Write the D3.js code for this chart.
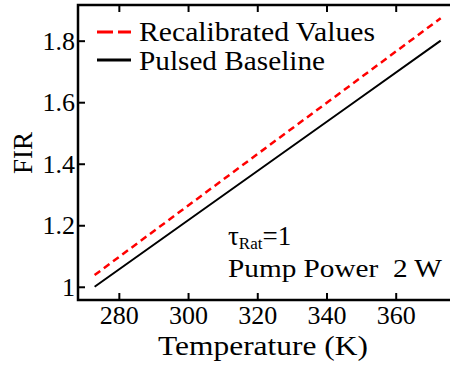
<!DOCTYPE html>
<html>
<head>
<meta charset="utf-8">
<script src="https://cdn.jsdelivr.net/npm/d3@7"></script>
<style>
  body { margin: 0; background: #fff; }
  svg text { font-family: "Liberation Serif", serif; fill: #000; }
</style>
</head>
<body>
<div id="chart"></div>
<script>
// values
var temps = [273, 298, 323, 348, 373];
var baseline = [1.0, 1.2, 1.4, 1.6, 1.8];
var recalibrated = [1.038, 1.247, 1.456, 1.664, 1.873];
var xTicks = [280, 300, 320, 340, 360];
var yTicks = [1, 1.2, 1.4, 1.6, 1.8];
var seriesNames = ["Recalibrated Values", "Pulsed Baseline"];
var legendWidths = [236, 186];

var width = 450, height = 365;
var margin = {top: 5, right: -8, bottom: 65, left: 78};
var w = width - margin.left - margin.right,
    h = height - margin.top - margin.bottom;

var svg = d3.select("#chart").append("svg")
    .attr("width", width)
    .attr("height", height);

var g = svg.append("g")
    .attr("transform", "translate(" + margin.left + "," + margin.top + ")");

var x = d3.scaleLinear().domain([268.2, 378]).range([0, w]);
var y = d3.scaleLinear().domain([0.957, 1.916]).range([h, 0]);

// frame
g.append("rect")
    .attr("width", w).attr("height", h)
    .attr("fill", "none").attr("stroke", "#000").attr("stroke-width", 2.5);

var xAxis = g.append("g")
    .attr("transform", "translate(0," + h + ")")
    .call(d3.axisBottom(x).tickValues(xTicks).tickSizeInner(-7).tickSizeOuter(0));
var xTop = g.append("g")
    .call(d3.axisTop(x).tickValues(xTicks).tickSizeInner(-7).tickSizeOuter(0).tickFormat(""));
var yAxis = g.append("g")
    .call(d3.axisLeft(y).tickValues(yTicks).tickSizeInner(-7).tickSizeOuter(0).tickPadding(3)
        .tickFormat(function(d){ return d; }));

[xAxis, xTop, yAxis].forEach(function(a){
    a.attr("font-family", null);
    a.select(".domain").remove();
    a.selectAll(".tick line").attr("stroke", "#000").attr("stroke-width", 2);
    a.selectAll(".tick text").style("font-size", "26px");
});
xAxis.selectAll(".tick text").attr("y", 24).attr("dy", null);

var line = d3.line()
    .x(function(d, i){ return x(temps[i]); })
    .y(function(d){ return y(d); });

g.append("path").datum(baseline)
    .attr("d", line).attr("fill", "none")
    .attr("stroke", "#000").attr("stroke-width", 2);

g.append("path").datum(recalibrated)
    .attr("d", line).attr("fill", "none")
    .attr("stroke", "#ff0000").attr("stroke-width", 2.5)
    .attr("stroke-dasharray", "7,4.5");

// legend
var legend = svg.append("g");
legend.append("line")
    .attr("x1", 97).attr("x2", 131).attr("y1", 32).attr("y2", 32)
    .attr("stroke", "#ff0000").attr("stroke-width", 3).attr("stroke-dasharray", "16,5");
legend.append("line")
    .attr("x1", 97).attr("x2", 131).attr("y1", 60).attr("y2", 60)
    .attr("stroke", "#000").attr("stroke-width", 3);
legend.selectAll("text.leg").data(seriesNames).enter().append("text")
    .attr("class", "leg")
    .attr("x", 139)
    .attr("y", function(d, i){ return 41 + i * 29; })
    .style("font-size", "27px")
    .attr("textLength", function(d, i){ return legendWidths[i]; })
    .attr("lengthAdjust", "spacingAndGlyphs")
    .text(function(d){ return d; });

// annotations
var tau = svg.append("text").attr("x", 228).attr("y", 245).style("font-size", "27px");
tau.append("tspan").text("τ");
tau.append("tspan").attr("dy", 4).style("font-size", "17px").text("Rat");
tau.append("tspan").attr("dy", -4).text("=1");

svg.append("text").attr("x", 228).attr("y", 277)
    .style("font-size", "26px")
    .attr("xml:space", "preserve")
    .attr("textLength", 214)
    .attr("lengthAdjust", "spacingAndGlyphs")
    .text("Pump Power  2 W");

// axis titles
svg.append("text")
    .attr("x", 158).attr("y", 355)
    .style("font-size", "28px")
    .attr("textLength", 210)
    .attr("lengthAdjust", "spacingAndGlyphs")
    .text("Temperature (K)");

svg.append("text")
    .attr("transform", "translate(32,153) rotate(-90)")
    .attr("text-anchor", "middle")
    .style("font-size", "27px")
    .text("FIR");
</script>
</body>
</html>
